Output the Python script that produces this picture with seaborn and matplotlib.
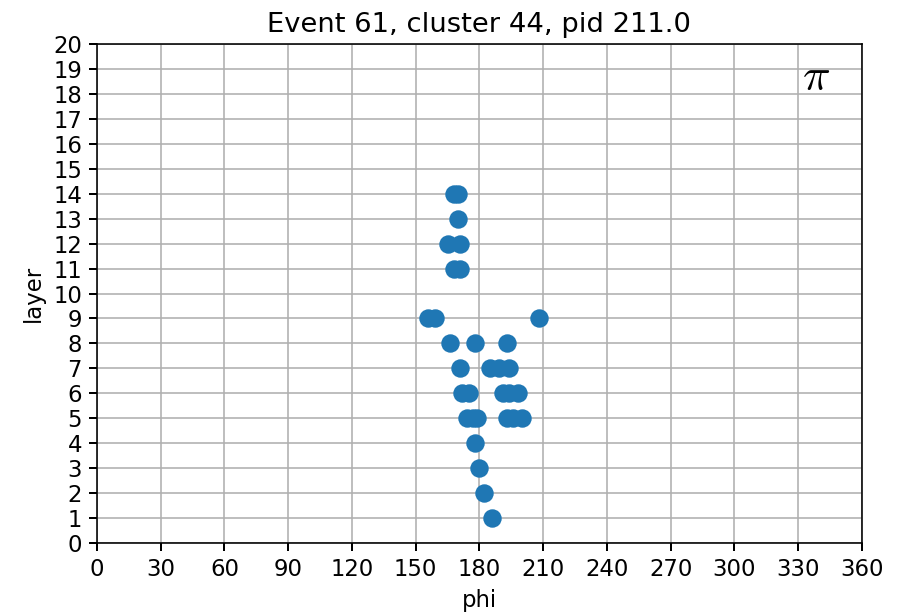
import matplotlib
matplotlib.use("Agg")
import matplotlib.pyplot as plt
import seaborn as sns
import pandas as pd

# Hit positions of the cluster: azimuth (degrees) and detector layer
phi = [186, 182, 180, 178,
       174, 177, 179, 193, 196, 200,
       172, 175, 191, 194, 198,
       171, 185, 189, 194,
       166, 178, 193,
       156, 159, 208,
       168, 171,
       165, 171,
       170,
       168, 170]
layer = [1, 2, 3, 4,
         5, 5, 5, 5, 5, 5,
         6, 6, 6, 6, 6,
         7, 7, 7, 7,
         8, 8, 8,
         9, 9, 9,
         11, 11,
         12, 12,
         13,
         14, 14]

x_ticks = list(range(0, 361, 30))
y_ticks = list(range(0, 21))
title = "Event 61, cluster 44, pid 211.0"

plt.rcParams["mathtext.fontset"] = "cm"

df = pd.DataFrame({"phi": phi, "layer": layer})

fig = plt.figure(figsize=(904 / 144, 612 / 144), dpi=144)
ax = fig.add_axes([0.1073, 0.1127, 0.8462, 0.8153])

sns.scatterplot(data=df, x="phi", y="layer", ax=ax, s=85,
                color="#1f77b4", linewidth=0, alpha=1.0)

ax.set_xlim(0, 360)
ax.set_ylim(0, 20)
ax.set_xticks(x_ticks)
ax.set_yticks(y_ticks)
ax.tick_params(labelsize=11.4, length=4, width=1)
ax.grid(True, color="#b0b0b0", linewidth=0.8)
ax.set_axisbelow(True)
ax.set_xlabel("phi", fontsize=11.4)
ax.set_ylabel("layer", fontsize=11.4)
ax.set_title(title, fontsize=13.7)
ax.text(332, 17.75, r"$\pi$", fontsize=23, ha="left", va="bottom")

fig.savefig("out.png", dpi=144)
